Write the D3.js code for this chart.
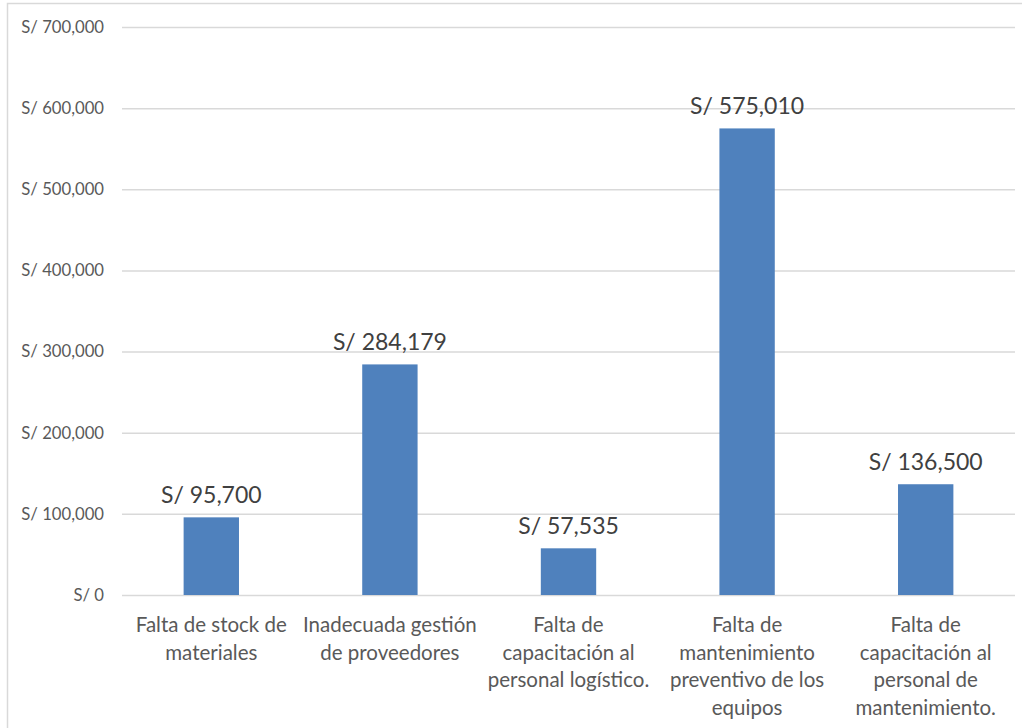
<!DOCTYPE html>
<html><head><meta charset="utf-8">
<script src="https://cdn.jsdelivr.net/npm/d3@7"></script>
<style>body{margin:0;background:#fff}svg{display:block}</style>
</head><body>
<svg id="c" width="1022" height="728"></svg>
<script>
const categories = [
  ["Falta de stock de","materiales"],
  ["Inadecuada gestión","de proveedores"],
  ["Falta de","capacitación al","personal logístico."],
  ["Falta de","mantenimiento","preventivo de los","equipos"],
  ["Falta de","capacitación al","personal de","mantenimiento."]
];
const values = [95700, 284179, 57535, 575010, 136500];
const yTicks = [0,100000,200000,300000,400000,500000,600000,700000];

const svg = d3.select("#c");
const font = "Lato, 'Open Sans', sans-serif";
svg.append("rect").attr("x",7.5).attr("y",3.5).attr("width",1030).attr("height",740)
  .attr("fill","#fff").attr("stroke","#d9d9d9").attr("stroke-width",1.5);

const x = d3.scaleBand().domain(d3.range(categories.length)).range([122,1015]).paddingInner(0.69).paddingOuter(0.345);
const y = d3.scaleLinear().domain([0,700000]).range([595,27]);
const fmt = d3.format(",");

const yAxis = d3.axisLeft(y).tickValues(yTicks).tickSize(-(1015-122)).tickFormat(d=>"S/ "+fmt(d)).tickPadding(18);
const ga = svg.append("g").attr("transform","translate(122,0)").call(yAxis);
ga.select(".domain").remove();
ga.selectAll(".tick line").attr("stroke","#d9d9d9").attr("stroke-width",1.5);
ga.selectAll(".tick text").attr("fill","#595959").style("font-family",font).style("font-size","16.7px");

svg.append("g").selectAll("rect").data(values).join("rect")
  .attr("x",(d,i)=>x(i)).attr("width",x.bandwidth())
  .attr("y",d=>y(d)).attr("height",d=>y(0)-y(d)).attr("fill","#4f81bd");

svg.append("g").selectAll("text").data(values).join("text")
  .attr("x",(d,i)=>x(i)+x.bandwidth()/2).attr("y",d=>y(d)-14)
  .attr("text-anchor","middle").attr("fill","#404040")
  .style("font-family",font).style("font-size","23px")
  .text(d=>"S/ "+fmt(d));

const gl = svg.append("g");
categories.forEach((lines,i)=>{
  const t = gl.append("text").attr("text-anchor","middle").attr("fill","#595959")
    .style("font-family",font).style("font-size","20.5px");
  lines.forEach((ln,j)=>{
    t.append("tspan").attr("x",x(i)+x.bandwidth()/2).attr("y",632+j*27.5).text(ln);
  });
});
</script>
</body></html>
